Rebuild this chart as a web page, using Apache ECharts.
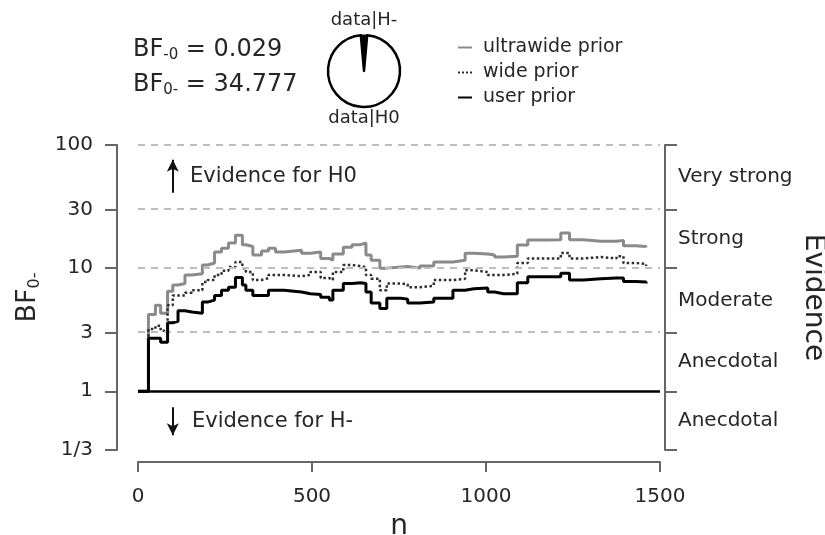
<!DOCTYPE html>
<html>
<head>
<meta charset="utf-8">
<script src="https://cdn.jsdelivr.net/npm/echarts@6/dist/echarts.min.js"></script>
<style>html,body{margin:0;padding:0;background:#fff}#main{width:825px;height:535px}</style>
</head>
<body>
<div id="main"></div>
<script>
// sequential analysis, BF0- against n
var n = [0, 30, 50, 65, 85, 100, 115, 135, 155, 185, 200, 220, 240, 260, 280, 300, 310, 330, 355, 375, 395, 420, 470, 495, 525, 550, 560, 590, 615, 640, 655, 670, 695, 715, 755, 775, 810, 850, 905, 940, 965, 1005, 1025, 1050, 1090, 1120, 1175, 1215, 1240, 1280, 1330, 1375, 1395, 1430, 1460];
var userPrior = [1, 2.7, 2.7, 2.5, 3.6, 3.7, 4.5, 4.4, 4.3, 5.3, 5.5, 6.0, 6.6, 7.0, 8.4, 7.3, 6.6, 6.0, 6.0, 6.6, 6.6, 6.4, 6.2, 6.1, 5.8, 5.5, 6.6, 7.5, 7.6, 7.5, 6.4, 5.2, 4.7, 5.7, 5.6, 5.2, 5.3, 5.7, 6.6, 6.8, 6.9, 6.4, 6.2, 6.2, 7.6, 8.5, 8.5, 9.1, 8.0, 8.2, 8.3, 8.3, 7.8, 7.7, 7.5];
var widePrior = [1, 3.2, 3.4, 3.1, 5.0, 6.0, 6.0, 6.3, 6.6, 7.7, 8.0, 8.8, 9.5, 10.2, 11.2, 10.0, 9.3, 8.0, 8.3, 8.8, 8.8, 8.6, 8.8, 9.3, 8.3, 8.0, 9.3, 10.6, 10.4, 10.2, 8.8, 8.2, 6.6, 7.5, 7.4, 7.0, 7.2, 8.0, 8.2, 9.6, 9.3, 8.8, 8.8, 9.0, 11.0, 12.0, 12.0, 13.3, 12.0, 12.3, 12.0, 12.5, 11.0, 10.8, 10.4];
var ultrawidePrior = [1, 4.2, 5.0, 4.3, 6.5, 7.3, 7.5, 8.8, 9.0, 10.6, 11.0, 13.5, 14.5, 16.0, 18.5, 15.5, 15.0, 12.8, 13.8, 14.5, 13.5, 14.0, 13.2, 13.5, 12.0, 11.6, 13.0, 14.8, 15.5, 16.0, 12.8, 11.6, 10.0, 10.2, 10.3, 10.0, 10.4, 11.2, 11.6, 13.2, 13.0, 12.8, 12.3, 12.5, 15.4, 16.9, 17.0, 19.3, 17.0, 16.5, 16.5, 16.8, 15.2, 15.0, 14.8];

var bfMinus0 = 0.029;
var bf0Minus = 34.777;

var yTicks = [1/3, 1, 3, 10, 30, 100];
var yTickLabels = ['1/3', '1', '3', '10', '30', '100'];
var evidenceLabels = ['Anecdotal', 'Anecdotal', 'Moderate', 'Strong', 'Very strong'];

var FONT = 'DejaVu Sans';
var TXT = '#262626';
var AXIS = '#666';

function lg(v) { return Math.log10(v); }
function pairs(vals) { return n.map(function (x, i) { return [x, lg(vals[i])]; }); }

var tickPos = yTicks.map(lg);
var midPos = [];
for (var i = 0; i < yTicks.length - 1; i++) midPos.push((tickPos[i] + tickPos[i + 1]) / 2);

function nearest(arr, v) {
    var best = 0;
    for (var i = 1; i < arr.length; i++) if (Math.abs(arr[i] - v) < Math.abs(arr[best] - v)) best = i;
    return best;
}

var chart = echarts.init(document.getElementById('main'), null, {renderer: 'canvas'});

var option = {
    animation: false,
    textStyle: {fontFamily: FONT},
    legend: {
        orient: 'vertical',
        left: 452,
        top: 33,
        itemWidth: 14,
        itemHeight: 14,
        itemGap: 6,
        data: ['ultrawide prior', 'wide prior', 'user prior'],
        itemStyle: {opacity: 0},
        textStyle: {fontSize: 19, color: TXT, fontFamily: FONT, padding: [0, 0, 0, 6]}
    },
    grid: {left: 138, right: 165, top: 145, bottom: 85, outerBoundsMode: 'none', containLabel: false},
    xAxis: {
        type: 'value',
        min: 0, max: 1500, interval: 500,
        offset: 12,
        name: 'n',
        nameLocation: 'middle',
        nameGap: 51,
        nameTextStyle: {fontSize: 28, color: TXT, fontFamily: FONT},
        axisLine: {show: true, onZero: false, lineStyle: {color: AXIS, width: 2}},
        axisTick: {show: true, length: 10, lineStyle: {color: AXIS, width: 2}},
        axisLabel: {fontSize: 20, color: TXT, margin: 25, fontFamily: FONT, formatter: function (v) { return String(v); }},
        splitLine: {show: false}
    },
    yAxis: [
        {
            type: 'value',
            min: tickPos[0], max: tickPos[tickPos.length - 1],
            offset: 21,
            name: '{a|BF}{b|0-}',
            nameLocation: 'middle',
            nameGap: 74,
            nameTextStyle: {
                color: TXT, fontFamily: FONT,
                rich: {
                    a: {fontSize: 27, color: TXT, fontFamily: FONT},
                    b: {fontSize: 16, color: TXT, fontFamily: FONT, verticalAlign: 'bottom', padding: [14, 0, 0, 0]}
                }
            },
            axisLine: {show: true, onZero: false, lineStyle: {color: AXIS, width: 2}},
            axisTick: {show: true, length: 12, customValues: tickPos, lineStyle: {color: AXIS, width: 2}},
            axisLabel: {
                fontSize: 20, color: TXT, margin: 24, fontFamily: FONT,
                customValues: tickPos,
                formatter: function (v) { return yTickLabels[nearest(tickPos, v)]; }
            },
            splitLine: {show: false}
        },
        {
            type: 'value',
            position: 'right',
            min: tickPos[0], max: tickPos[tickPos.length - 1],
            offset: 5,
            name: 'Evidence',
            nameLocation: 'middle',
            nameRotate: -90,
            nameGap: 134,
            nameMoveOverlap: false,
            nameTextStyle: {fontSize: 28, color: TXT, fontFamily: FONT},
            axisLine: {show: true, onZero: false, lineStyle: {color: AXIS, width: 2}},
            axisTick: {show: true, length: 12, customValues: tickPos, lineStyle: {color: AXIS, width: 2}},
            axisLabel: {
                fontSize: 20, color: TXT, margin: 13, fontFamily: FONT,
                customValues: midPos,
                formatter: function (v) { return evidenceLabels[nearest(midPos, v)]; }
            },
            splitLine: {show: false}
        }
    ],
    series: [
        {
            name: 'guides',
            type: 'line',
            data: [],
            silent: true,
            markLine: {
                silent: true,
                symbol: 'none',
                label: {show: false},
                lineStyle: {color: '#bdbdbd', type: [7, 6], width: 2},
                data: tickPos.filter(function (v, i) { return yTicks[i] !== 1; }).map(function (v) { return {yAxis: v}; })
            }
        },
        {
            name: 'arrows',
            type: 'line',
            data: [],
            silent: true,
            markLine: {
                silent: true,
                symbol: ['none', 'arrow'],
                symbolSize: [9, 12],
                label: {show: false},
                lineStyle: {color: '#111', type: 'solid', width: 2},
                data: [
                    [{coord: [100, lg(41)]}, {coord: [100, lg(76)]}],
                    [{coord: [100, lg(0.74)]}, {coord: [100, lg(0.44)]}]
                ]
            }
        },
        {
            name: 'ultrawide prior',
            type: 'line',
            step: 'end',
            symbol: 'none',
            data: pairs(ultrawidePrior),
            itemStyle: {color: '#8a8a8a'},
            lineStyle: {color: '#8a8a8a', width: 3},
            z: 3
        },
        {
            name: 'wide prior',
            type: 'line',
            step: 'end',
            symbol: 'none',
            data: pairs(widePrior),
            itemStyle: {color: '#2e2e2e'},
            lineStyle: {color: '#2e2e2e', width: 2.5, type: 'dotted'},
            z: 4
        },
        {
            name: 'user prior',
            type: 'line',
            step: 'end',
            symbol: 'none',
            data: pairs(userPrior),
            itemStyle: {color: '#000'},
            lineStyle: {color: '#000', width: 3},
            z: 5,
            markLine: {
                silent: true,
                symbol: 'none',
                label: {show: false},
                lineStyle: {color: '#000', type: 'solid', width: 2.5},
                data: [{yAxis: 0}]
            }
        },
        {
            name: 'pie',
            type: 'pie',
            center: [364, 71],
            radius: 36,
            startAngle: 90 + 180 * bfMinus0 / (1 + bfMinus0),
            clockwise: true,
            silent: true,
            label: {show: false},
            labelLine: {show: false},
            data: [
                {name: 'data|H-', value: bfMinus0, itemStyle: {color: '#000', borderColor: '#000', borderWidth: 1}},
                {name: 'data|H0', value: 1, itemStyle: {color: '#fff', borderColor: '#000', borderWidth: 2.5}}
            ]
        }
    ],
    graphic: [
        {
            type: 'text', left: 133, top: 38,
            style: {
                text: '{a|BF}{b|-0}{a| = ' + bfMinus0.toFixed(3) + '}',
                rich: {
                    a: {fontSize: 24, fill: TXT, fontFamily: FONT},
                    b: {fontSize: 15, fill: TXT, fontFamily: FONT, verticalAlign: 'bottom', padding: [11, 0, 0, 0]}
                }
            }
        },
        {
            type: 'text', left: 133, top: 73,
            style: {
                text: '{a|BF}{b|0-}{a| = ' + bf0Minus.toFixed(3) + '}',
                rich: {
                    a: {fontSize: 24, fill: TXT, fontFamily: FONT},
                    b: {fontSize: 15, fill: TXT, fontFamily: FONT, verticalAlign: 'bottom', padding: [11, 0, 0, 0]}
                }
            }
        },
        {type: 'text', x: 364, y: 20, style: {text: 'data|H-', fontSize: 18, fill: TXT, fontFamily: FONT, align: 'center', verticalAlign: 'middle'}},
        {type: 'text', x: 364, y: 118, style: {text: 'data|H0', fontSize: 18, fill: TXT, fontFamily: FONT, align: 'center', verticalAlign: 'middle'}},
        {type: 'text', x: 190, y: 177, style: {text: 'Evidence for H0', fontSize: 21, fill: TXT, fontFamily: FONT, verticalAlign: 'middle'}},
        {type: 'text', x: 192, y: 422, style: {text: 'Evidence for H-', fontSize: 21, fill: TXT, fontFamily: FONT, verticalAlign: 'middle'}}
    ]
};

chart.setOption(option);
</script>
</body>
</html>
